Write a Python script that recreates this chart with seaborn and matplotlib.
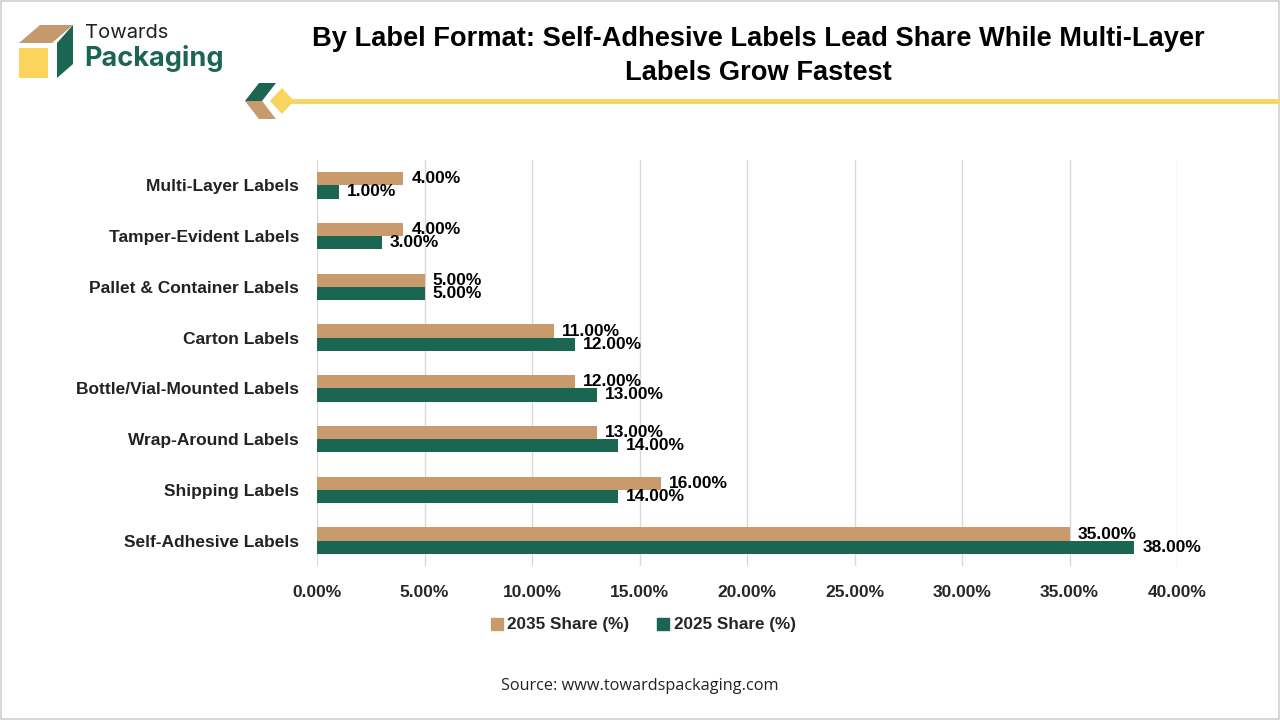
import matplotlib
matplotlib.use("Agg")
import matplotlib.pyplot as plt
import matplotlib.patches as mpatches
from matplotlib.lines import Line2D
import seaborn as sns
import pandas as pd

categories = ["Multi-Layer Labels", "Tamper-Evident Labels", "Pallet & Container Labels",
              "Carton Labels", "Bottle/Vial-Mounted Labels", "Wrap-Around Labels",
              "Shipping Labels", "Self-Adhesive Labels"]
share_2035 = [4, 4, 5, 11, 12, 13, 16, 35]
share_2025 = [1, 3, 5, 12, 13, 14, 14, 38]
series_names = ["2035 Share (%)", "2025 Share (%)"]
x_ticks = [0, 5, 10, 15, 20, 25, 30, 35, 40]
title = "By Label Format: Self-Adhesive Labels Lead Share While Multi-Layer\nLabels Grow Fastest"
source = "Source: www.towardspackaging.com"

TAN = "#C99A6B"
GREEN = "#1B6553"
GOLD = "#F7D55E"

df = pd.DataFrame({
    "Category": categories * 2,
    "Share": share_2035 + share_2025,
    "Series": [series_names[0]] * len(categories) + [series_names[1]] * len(categories),
})

sns.set_theme(style="white")
plt.rcParams["font.family"] = ["Liberation Sans", "DejaVu Sans"]

fig = plt.figure(figsize=(12.8, 7.2), dpi=100)
ax = fig.add_axes([317 / 1280, 1 - 566 / 720, (1177 - 317) / 1280, (566 - 160) / 720])

sns.barplot(data=df, y="Category", x="Share", hue="Series", hue_order=series_names,
            order=categories, palette=[TAN, GREEN], width=0.52, orient="h",
            ax=ax, legend=False, saturation=1, linewidth=0)

ax.set_xlim(0, 40)
ax.set_xticks(x_ticks)
ax.set_xticklabels([f"{v:.2f}%" for v in x_ticks], fontsize=12.5, fontweight="bold")
ax.tick_params(axis="x", length=0, pad=14)
ax.tick_params(axis="y", length=0, pad=13)
for lbl in ax.get_yticklabels():
    lbl.set_fontsize(12.5)
    lbl.set_fontweight("bold")
    lbl.set_color("#222222")
ax.set_xlabel("")
ax.set_ylabel("")
ax.grid(axis="x", color="#D9D9D9", linewidth=1)
ax.set_axisbelow(True)
for s in ax.spines.values():
    s.set_visible(False)

for cont in ax.containers:
    ax.bar_label(cont, labels=[f"{v:.2f}%" for v in cont.datavalues], padding=6,
                 fontsize=12.5, fontweight="bold", color="black")

# Legend
handles = [Line2D([0], [0], marker="s", linestyle="", markersize=8, markerfacecolor=c,
                  markeredgecolor=c) for c in [TAN, GREEN]]
fig.legend(handles, series_names, loc="center", bbox_to_anchor=(642 / 1280, 1 - 625 / 720),
           ncol=2, frameon=False, prop={"size": 12.3, "weight": "bold"},
           handletextpad=0.1, columnspacing=1.5, handlelength=1.0)

# Title
fig.text(758 / 1280, 1 - 56 / 720, title, ha="center", va="center", fontsize=19.6,
         fontweight="bold", linespacing=1.42, color="black")

# Source
fig.text(640 / 1280, 1 - 686 / 720, source, ha="center", va="center", fontsize=11.7,
         color="#222222", family=["Open Sans", "DejaVu Sans"])

# Decorative line
fig.add_artist(Line2D([290 / 1280, 1.0], [1 - 101 / 720, 1 - 101 / 720],
                      transform=fig.transFigure, color=GOLD, linewidth=3.5))

def fpoly(pts, color):
    p = mpatches.Polygon([(x / 1280, 1 - y / 720) for x, y in pts], closed=True,
                         transform=fig.transFigure, facecolor=color, edgecolor="none")
    fig.add_artist(p)

# small chevrons near line
fpoly([(259, 83), (276, 83), (262, 101), (245, 101)], GREEN)
fpoly([(245, 101), (262, 101), (276, 119), (259, 119)], TAN)
fpoly([(282, 88), (294, 101), (282, 114), (270, 101)], GOLD)

# Logo
fpoly([(19, 43), (40, 25), (73, 25), (52, 43)], "#C49A6C")
fpoly([(57, 43), (73, 25), (73, 64), (57, 78)], GREEN)
fpoly([(19, 48), (48, 48), (48, 78), (19, 78)], "#FBD45B")
fig.text(85 / 1280, 1 - 33 / 720, "Towards", fontsize=14.5, color="#222222",
         va="center", ha="left", family=["Inter", "DejaVu Sans"])
fig.text(84 / 1280, 1 - 58 / 720, "Packaging", fontsize=19.5, color=GREEN, fontweight="bold",
         va="center", ha="left", family=["Inter", "DejaVu Sans"])

# Border
fig.add_artist(mpatches.Rectangle((0.001, 0.001), 0.998, 0.997, transform=fig.transFigure,
                                  facecolor="none", edgecolor="#D0D0D0", linewidth=1.2))

fig.savefig("out.png", dpi=100)
